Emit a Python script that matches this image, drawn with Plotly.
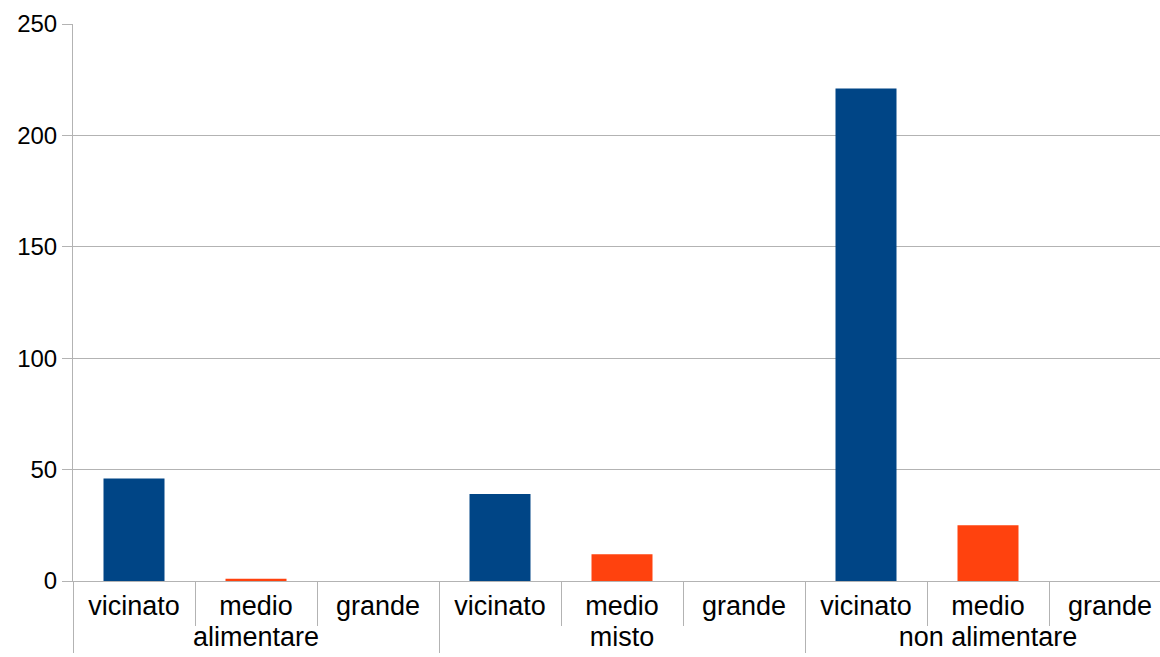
import plotly.graph_objects as go

# data
groups = ["alimentare", "misto", "non alimentare"]
sizes = ["vicinato", "medio", "grande"]
values = [
    [46, 1, 0],     # alimentare
    [39, 12, 0],    # misto
    [221, 25, 0],   # non alimentare
]
bar_colors = [
    ["#004586", "#ff420e", "#ff420e"],
    ["#004586", "#ff420e", "#579d1c"],
    ["#004586", "#ff420e", "#579d1c"],
]

x_outer = [g for g in groups for _ in sizes]
x_inner = [s for _ in groups for s in sizes]
y_vals = [v for row in values for v in row]
colors = [c for row in bar_colors for c in row]

fig = go.Figure(go.Bar(
    x=[x_outer, x_inner],
    y=y_vals,
    marker=dict(color=colors, line=dict(width=0)),
))

grid = "#b3b3b3"
font = "Liberation Sans, Arial, sans-serif"

# the original chart is a bit wider than the window and gets cropped on the right
fig.update_layout(
    width=1172, height=657,
    margin=dict(l=73, r=1, t=24, b=76),
    plot_bgcolor="white", paper_bgcolor="white",
    bargap=0.5,
    showlegend=False,
    font=dict(family=font, size=24, color="black"),
)
fig.update_yaxes(
    range=[0, 250], dtick=50,
    showgrid=True, gridcolor=grid, gridwidth=1,
    showline=True, linecolor=grid, linewidth=1,
    ticks="outside", ticklen=10, tickcolor=grid,
    zeroline=False, automargin=False,
    tickfont=dict(size=24),
)
fig.update_xaxes(
    type="multicategory",
    showline=True, linecolor=grid, linewidth=1,
    ticks="outside", tickson="boundaries", ticklen=44, tickcolor=grid,
    showdividers=True, dividercolor=grid, dividerwidth=1,
    automargin=False, ticklabelstandoff=1,
    tickfont=dict(size=27),
)

# drop the default body margin and any scrollbars so the figure sits at 0,0
fig.write_html(
    "out.html",
    config={"displayModeBar": False},
    post_script="document.body.style.margin='0';document.body.style.overflow='hidden';",
)
